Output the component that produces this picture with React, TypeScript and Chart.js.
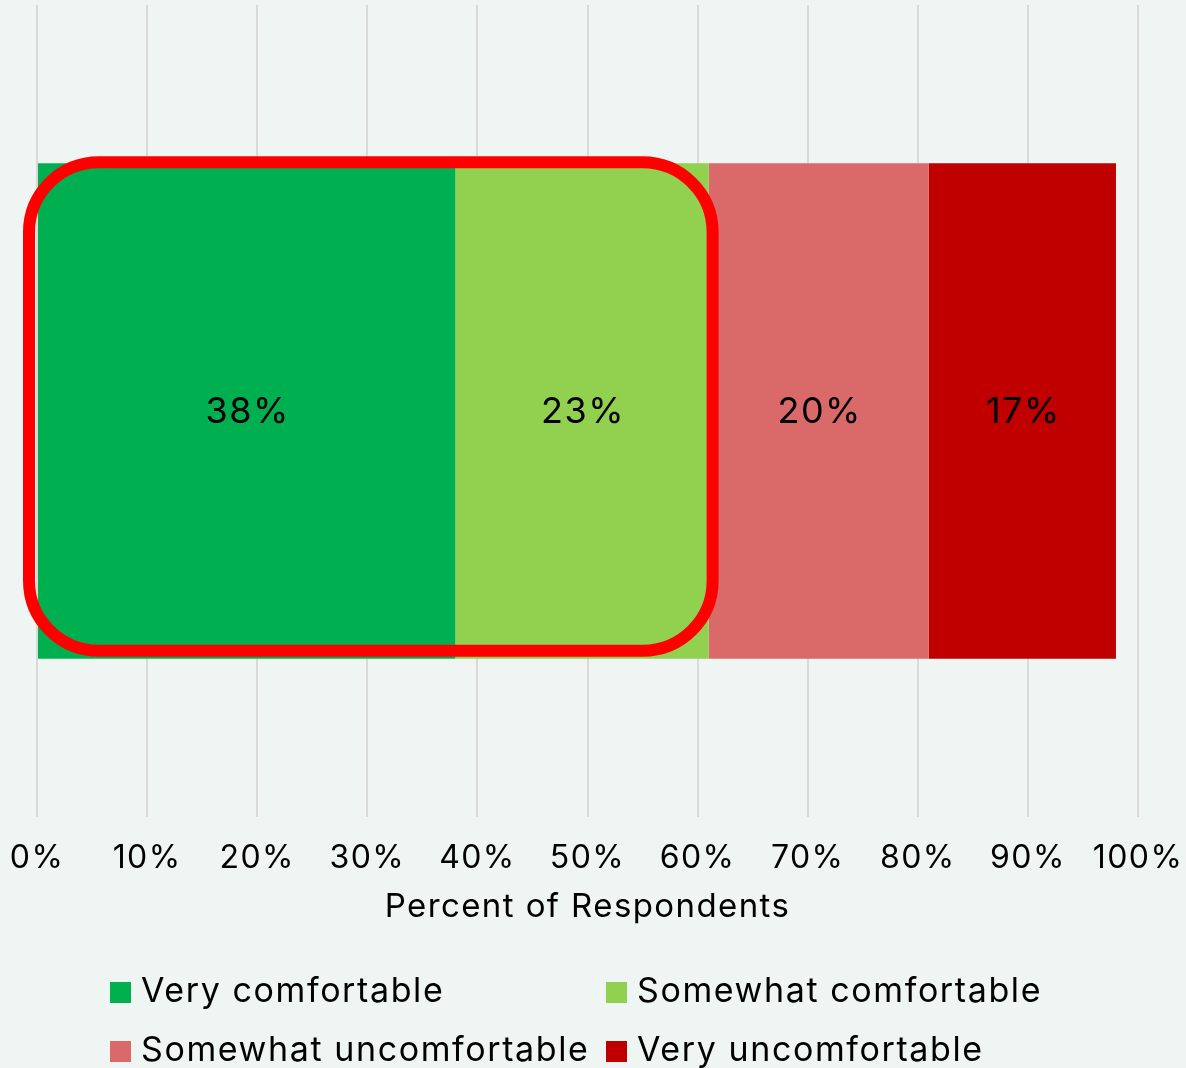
import React, { useEffect, useRef } from "react";
import { Chart, registerables } from "chart.js";

Chart.register(...registerables);

const categories: string[] = [""];
const seriesNames: string[] = [
  "Very comfortable",
  "Somewhat comfortable",
  "Somewhat uncomfortable",
  "Very uncomfortable",
];
const veryComfortable: number[] = [38];
const somewhatComfortable: number[] = [23];
const somewhatUncomfortable: number[] = [20];
const veryUncomfortable: number[] = [17];
const seriesColors: string[] = ["#00b050", "#92d050", "#da6a6a", "#c00000"];
const highlightEndValue = 61;
const axisTitle = "Percent of Respondents";

const FONT = "Inter, 'Open Sans', sans-serif";

export default function App() {
  const ref = useRef<HTMLCanvasElement | null>(null);
  useEffect(() => {
    document.body.style.margin = "0";
    const canvas = ref.current;
    if (!canvas) return;
    const seriesData = [veryComfortable, somewhatComfortable, somewhatUncomfortable, veryUncomfortable];

    const labelsPlugin = {
      id: "customDraw",
      beforeDraw(chart: any) {
        (chart.ctx as any).letterSpacing = "1.4px";
      },
      afterDatasetsDraw(chart: any) {
        const ctx = chart.ctx;
        const xs = chart.scales.x;
        const bar = chart.getDatasetMeta(0).data[0];
        if (bar) {
          const top = bar.y - bar.height / 2;
          const bottom = bar.y + bar.height / 2;
          const left = xs.getPixelForValue(0) - 8;
          const right = xs.getPixelForValue(highlightEndValue) + 4;
          ctx.save();
          ctx.strokeStyle = "#ff0000";
          ctx.lineWidth = 12;
          ctx.beginPath();
          ctx.roundRect(left, top - 1, right - left, bottom - 8 - (top - 1), 70);
          ctx.stroke();
          ctx.restore();
        }
        ctx.save();
        ctx.font = `36px ${FONT}`;
        (ctx as any).letterSpacing = "1.5px";
        ctx.fillStyle = "#000";
        ctx.textAlign = "center";
        ctx.textBaseline = "middle";
        chart.data.datasets.forEach((ds: any, i: number) => {
          const meta = chart.getDatasetMeta(i);
          meta.data.forEach((el: any, j: number) => {
            const v = ds.data[j];
            const cx = (el.x + el.base) / 2;
            ctx.fillText(`${v}%`, cx + 1, el.y + 1);
          });
        });
        ctx.restore();
      },
      afterDraw(chart: any) {
        const ctx = chart.ctx;
        ctx.save();
        ctx.font = `34px ${FONT}`;
        (ctx as any).letterSpacing = "1.6px";
        ctx.textBaseline = "middle";
        ctx.textAlign = "left";
        const cols = [110, 606];
        const rows = [992, 1051];
        seriesNames.forEach((name, i) => {
          const x = cols[i % 2];
          const y = rows[Math.floor(i / 2)];
          ctx.fillStyle = seriesColors[i];
          ctx.fillRect(x, y - 10, 21, 21);
          ctx.fillStyle = "#000";
          ctx.fillText(name, x + 31, y);
        });
        ctx.restore();
      },
    };

    const chart = new Chart(canvas, {
      type: "bar",
      data: {
        labels: categories,
        datasets: seriesNames.map((n, i) => ({
          label: n,
          data: seriesData[i],
          backgroundColor: seriesColors[i],
          borderWidth: 0,
          barPercentage: 0.61,
          categoryPercentage: 1,
        })),
      },
      options: {
        indexAxis: "y",
        animation: false,
        responsive: false,
        maintainAspectRatio: false,
        layout: { padding: { left: 37, right: 48, top: 5, bottom: 141 } },
        plugins: {
          legend: { display: false },
          tooltip: { enabled: false },
        },
        scales: {
          x: {
            stacked: true,
            min: 0,
            max: 100,
            afterFit: (scale: any) => {
              scale.paddingLeft = 0;
              scale.paddingRight = 0;
              scale.height = 110;
            },
            ticks: {
              stepSize: 10,
              padding: 22,
              color: "#000",
              font: { family: FONT, size: 32 },
              callback: (v: any) => `${v}%`,
            },
            grid: { color: "#d9d9d9", lineWidth: 2, drawTicks: false },
            border: { display: false },
            title: {
              display: true,
              text: axisTitle,
              color: "#000",
              font: { family: FONT, size: 33 },
              padding: { top: 0, bottom: 0 },
            },
          },
          y: {
            stacked: true,
            display: false,
          },
        },
      },
      plugins: [labelsPlugin],
    } as any);
    return () => chart.destroy();
  }, []);

  return (
    <div style={{ position: "relative", width: 1186, height: 1068, overflow: "hidden", background: "#eff5f2" }}>
      <canvas ref={ref} width={1186} height={1068} style={{ display: "block" }} />
    </div>
  );
}
